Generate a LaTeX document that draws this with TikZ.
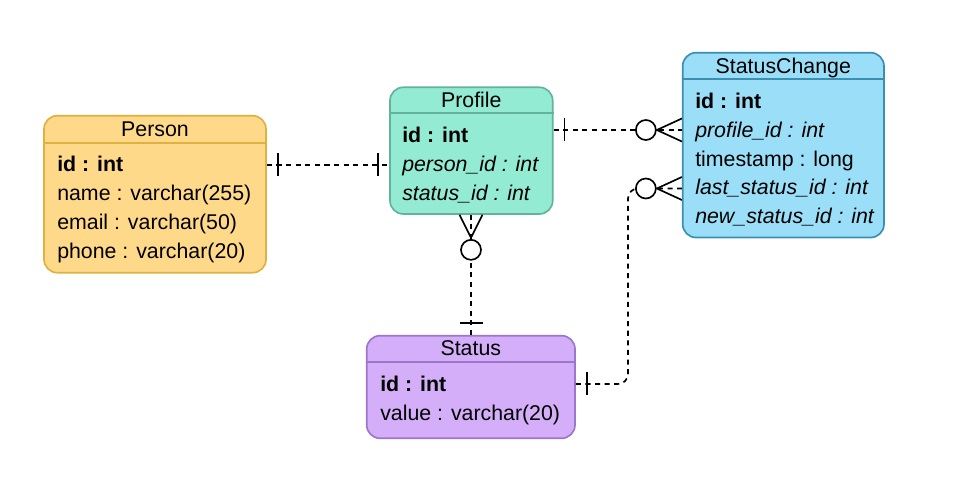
\documentclass[tikz,border=0pt]{standalone}
\usepackage{fontspec}
\setmainfont{Liberation Sans}
\usetikzlibrary{fit,calc}
\definecolor{perF}{HTML}{FFD98A}
\definecolor{perS}{HTML}{E0B040}
\definecolor{proF}{HTML}{93EBD4}
\definecolor{proS}{HTML}{62B29C}
\definecolor{scF}{HTML}{9ADFF7}
\definecolor{scS}{HTML}{3A8FB2}
\definecolor{stF}{HTML}{D4AEF8}
\definecolor{stS}{HTML}{9C76CA}
\begin{document}
\begin{tikzpicture}[x=0.75pt,y=-0.75pt,
  every node/.style={font=\fontsize{16}{19}\selectfont},
  tbl/.style={rounded corners=10pt, line width=1.25pt, inner sep=0pt},
  hdr/.style={line width=1.25pt},
  ttl/.style={anchor=base, inner sep=0pt},
  row/.style={anchor=base west, inner sep=0pt},
  conn/.style={line width=1.25pt, dash pattern=on 3.8pt off 3.4pt},
  endmark/.style={line width=1.25pt, solid},
  zcirc/.style={line width=1.25pt, solid, draw=black, fill=white}]
\useasboundingbox (0,0) rectangle (979,484);

% Person
\node[tbl, draw=perS, fill=perF, fit={(44,115.7)(266,272.7)}] (person) {};
\draw[hdr, perS] (person.west |- 0,143) -- (person.east |- 0,143);
\node[ttl] (person-t) at (155,137) {Person};
\node[row] (person-id) at (57,172) {\textbf{id : int}};
\node[row] (person-name) at (57,200.9) {name : varchar(255)};
\node[row] (person-email) at (57,229.8) {email : varchar(50)};
\node[row] (person-phone) at (57,258.7) {phone : varchar(20)};

% Profile
\node[tbl, draw=proS, fill=proF, fit={(390,87.3)(552.7,214)}] (profile) {};
\draw[hdr, proS] (profile.west |- 0,113.3) -- (profile.east |- 0,113.3);
\node[ttl] (profile-t) at (471.3,107.5) {Profile};
\node[row] (profile-id) at (402,143) {\textbf{id : int}};
\node[row] (profile-pid) at (402,171.5) {\textit{person\_id : int}};
\node[row] (profile-sid) at (402,200.3) {\textit{status\_id : int}};

% StatusChange
\node[tbl, draw=scS, fill=scF, fit={(682.7,52.7)(884,237.5)}] (sc) {};
\draw[hdr, scS] (sc.west |- 0,79.3) -- (sc.east |- 0,79.3);
\node[ttl] (sc-t) at (783.3,74) {StatusChange};
\node[row] (sc-id) at (695,108.3) {\textbf{id : int}};
\node[row] (sc-pid) at (695,137.2) {\textit{profile\_id : int}};
\node[row] (sc-ts) at (695,166.1) {timestamp : long};
\node[row] (sc-lsid) at (695,195) {\textit{last\_status\_id : int}};
\node[row] (sc-nsid) at (695,223.9) {\textit{new\_status\_id : int}};

% Status
\node[tbl, draw=stS, fill=stF, fit={(366.7,335.7)(575,438.3)}] (status) {};
\draw[hdr, stS] (status.west |- 0,362.3) -- (status.east |- 0,362.3);
\node[ttl] (status-t) at (470.8,356) {Status};
\node[row] (status-id) at (380,391.7) {\textbf{id : int}};
\node[row] (status-val) at (380,420.7) {value : varchar(20)};

% row levels
\coordinate (y1) at (0,165);
\coordinate (y2) at (0,130);
\coordinate (y3) at (0,384);
\coordinate (y4) at (0,188.5);
\coordinate (x3) at (471,0);

% Person -- Profile (one to one)
\draw[conn] (person.east |- y1) -- (profile.west |- y1);
\draw[endmark] ($(person.east |- y1)+(11,-11.5)$) -- ++(0,23);
\draw[endmark] ($(profile.west |- y1)+(-11,-11.5)$) -- ++(0,23);

% Profile -- StatusChange (one to zero-or-many)
\draw[conn] (profile.east |- y2) -- (sc.west |- y2);
\draw[endmark] ($(profile.east |- y2)+(11,-11.5)$) -- ++(0,23);
\draw[endmark] ($(sc.west |- y2)+(0,-11.5)$) -- ($(sc.west |- y2)+(-25,0)$) -- ($(sc.west |- y2)+(0,11.5)$);
\node[zcirc, circle, minimum size=15pt, inner sep=0pt] (c2) at ($(sc.west |- y2)+(-36,0)$) {};

% Profile -- Status (zero-or-many to one)
\draw[conn] (x3 |- profile.south) -- (x3 |- status.north);
\draw[endmark] ($(x3 |- profile.south)+(-11.5,0)$) -- ($(x3 |- profile.south)+(0,23)$) -- ($(x3 |- profile.south)+(11.5,0)$);
\node[zcirc, circle, minimum size=15pt, inner sep=0pt] (c3) at ($(x3 |- profile.south)+(0,35)$) {};
\draw[endmark] ($(x3 |- status.north)+(-11.5,-12)$) -- ++(23,0);

% Status -- StatusChange (one to zero-or-many)
\draw[conn, rounded corners=7.5pt] (status.east |- y3) -- (628,384) -- (628,188.5) -- (sc.west |- y4);
\draw[endmark] ($(status.east |- y3)+(11,-11.5)$) -- ++(0,23);
\draw[endmark] ($(sc.west |- y4)+(0,-11.5)$) -- ($(sc.west |- y4)+(-25,0)$) -- ($(sc.west |- y4)+(0,11.5)$);
\node[zcirc, circle, minimum size=15pt, inner sep=0pt] (c4) at ($(sc.west |- y4)+(-36,0)$) {};
\end{tikzpicture}
\end{document}
